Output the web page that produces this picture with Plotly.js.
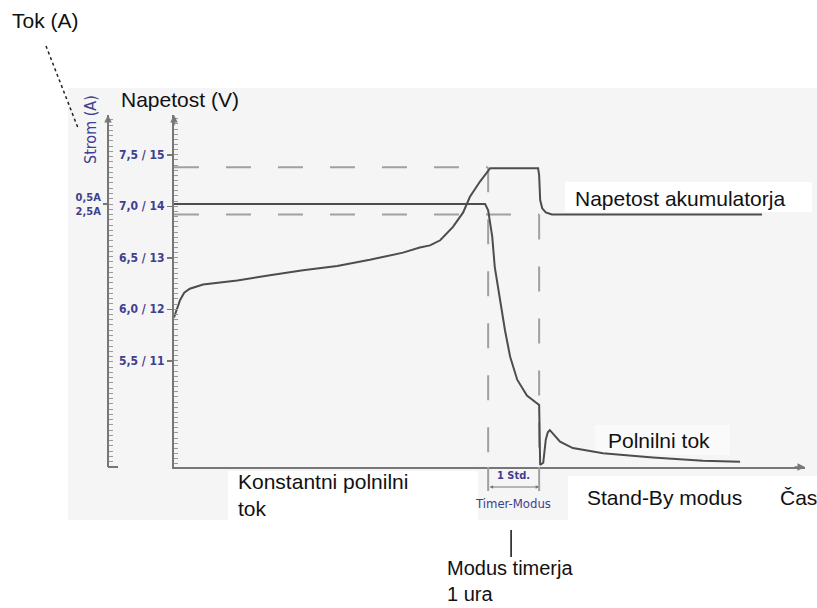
<!DOCTYPE html>
<html>
<head>
<meta charset="utf-8">
<script src="https://cdn.plot.ly/plotly-3.0.1.min.js"></script>
<style>html,body{margin:0;padding:0;background:#fff;}#chart{width:817px;height:608px;}</style>
</head>
<body>
<div id="chart"></div>
<script>
// ---- data (time in hours, voltage in V, current in A) ----
const tVoltage = [0, 0.06, 0.12, 0.20, 0.31, 0.57, 1.24, 1.88, 2.53, 3.20, 3.84, 4.49, 4.82, 5.02, 5.22, 5.47, 5.67, 5.80, 6.00, 6.20, 7.14, 7.16, 7.18, 7.22, 7.29, 7.41, 11.53];
const vVoltage = [5.92, 6.01, 6.09, 6.16, 6.20, 6.24, 6.28, 6.33, 6.38, 6.42, 6.48, 6.55, 6.60, 6.62, 6.67, 6.80, 6.94, 7.09, 7.24, 7.37, 7.37, 7.30, 7.06, 6.98, 6.94, 6.92, 6.92];

const tCurrent = [0, 6.10, 6.16, 6.24, 6.29, 6.39, 6.49, 6.59, 6.73, 6.92, 7.12, 7.16, 7.18, 7.24, 7.29, 7.33, 7.37, 7.57, 7.82, 8.41, 9.39, 10.37, 11.10];
const iCurrent = [2.50, 2.50, 2.44, 2.19, 1.90, 1.59, 1.30, 1.05, 0.83, 0.68, 0.61, 0.59, 0.02, 0.04, 0.26, 0.33, 0.35, 0.24, 0.18, 0.13, 0.09, 0.06, 0.05];

const vBoost = 7.38;      // upper dashed level
const vFloat = 6.92;      // lower dashed level
const tTimerStart = 6.16; // start of timer mode
const tTimerEnd = 7.16;   // end of timer mode (1 h)

const voltTickVals = [5.5, 6.0, 6.5, 7.0, 7.5];
const voltTickText = ['5,5 / 11', '6,0 / 12', '6,5 / 13', '7,0 / 14', '7,5 / 15'];
const currTickVals = [2.5];
const currTickText = ['0,5A<br>2,5A'];

const voltRange = [4.469, 7.886];
const currRange = [0, 3.346];
const timeRange = [0, 12.373];

// ---- styles ----
const curveColor = '#4d4d4d';
const axisColor = '#777777';
const dashColor = '#a0a0a0';
const blue = '#3f3f8f';
const narrow = '"Liberation Sans Narrow", "Arial Narrow", "DejaVu Sans Condensed", sans-serif';
const dashPat = '25px,27px';

const traces = [
  {x: [0, tTimerStart], y: [vBoost, vBoost], mode: 'lines', line: {color: dashColor, width: 2, dash: dashPat}, hoverinfo: 'skip'},
  {x: [0, tTimerEnd], y: [vFloat, vFloat], mode: 'lines', line: {color: dashColor, width: 2, dash: dashPat}, hoverinfo: 'skip'},
  {x: [tTimerStart, tTimerStart], y: [vBoost, voltRange[0]], mode: 'lines', line: {color: dashColor, width: 2, dash: dashPat}, hoverinfo: 'skip'},
  {x: [tTimerEnd, tTimerEnd], y: [vFloat, voltRange[0]], mode: 'lines', line: {color: dashColor, width: 2, dash: dashPat}, hoverinfo: 'skip'},
  {x: tVoltage, y: vVoltage, mode: 'lines', name: 'Napetost', line: {color: curveColor, width: 2}},
  {x: tCurrent, y: iCurrent, yaxis: 'y2', mode: 'lines', name: 'Tok', line: {color: curveColor, width: 2}}
];

const px = v => (v - 60) / 745;      // helper for paper x
const py = v => (467 - v) / 352;     // helper for paper y

const txt = (text, x, y, extra) => Object.assign({
  text: text, xref: 'paper', yref: 'paper', x: px(x), y: py(y),
  xanchor: 'left', yanchor: 'middle', showarrow: false, align: 'left',
  font: {size: 21, color: '#111', family: '"Liberation Sans", Arial, sans-serif'}
}, extra || {});

const annotations = [
  txt('Tok (A)', 10, 20),
  txt('Napetost (V)', 119, 100),
  txt('Napetost akumulatorja', 573, 198),
  txt('Polnilni tok', 606, 440),
  txt('Konstantni polnilni<br>tok', 236, 495),
  txt('Stand-By modus', 585, 497),
  txt('Čas', 778, 497),
  txt('Modus timerja<br>1 ura', 445, 581, {font: {size: 20, color: '#111', family: '"Liberation Sans", Arial, sans-serif'}}),
  txt('1 Std.', 513, 475, {xanchor: 'center', font: {size: 11, color: blue, family: narrow, weight: 'bold'}}),
  txt('Timer-Modus', 513, 503, {xanchor: 'center', font: {size: 13, color: blue, family: narrow}}),
  txt('Strom (A)', 90, 130, {xanchor: 'center', textangle: -90, font: {size: 16, color: blue, family: narrow}}),
  // axis arrows
  {xref: 'paper', yref: 'paper', x: px(174), y: 1, ax: 0, ay: 12, showarrow: true, arrowhead: 2, arrowsize: 1, arrowwidth: 1.5, arrowcolor: axisColor, text: ''},
  {xref: 'paper', yref: 'paper', x: px(108), y: 1, ax: 0, ay: 12, showarrow: true, arrowhead: 2, arrowsize: 1, arrowwidth: 1.5, arrowcolor: axisColor, text: ''},
  {xref: 'paper', yref: 'paper', x: 1, y: 0, ax: -12, ay: 0, showarrow: true, arrowhead: 2, arrowsize: 1, arrowwidth: 1.5, arrowcolor: axisColor, text: ''},
  // 1 Std. double arrow
  {xref: 'x', yref: 'paper', x: tTimerEnd, y: py(487), axref: 'x', ax: tTimerStart, ayref: 'pixel', ay: 0,
   showarrow: true, arrowside: 'end+start', arrowhead: 2, arrowsize: 0.7, arrowwidth: 1, arrowcolor: '#777', text: ''}
];

const shapes = [
  {type: 'rect', xref: 'paper', yref: 'paper', x0: px(68), x1: px(817), y0: py(520), y1: py(88), fillcolor: '#f5f5f5', line: {width: 0}, layer: 'below'},
  {type: 'rect', xref: 'paper', yref: 'paper', x0: px(228), x1: px(478), y0: py(524), y1: py(471), fillcolor: '#ffffff', line: {width: 0}, layer: 'below'},
  {type: 'rect', xref: 'paper', yref: 'paper', x0: px(568), x1: px(817), y0: py(520), y1: py(476), fillcolor: '#ffffff', line: {width: 0}, layer: 'below'},
  {type: 'rect', xref: 'paper', yref: 'paper', x0: px(565), x1: px(812), y0: py(212), y1: py(182), fillcolor: '#ffffff', line: {width: 0}, layer: 'below'},
  {type: 'rect', xref: 'paper', yref: 'paper', x0: px(595), x1: px(730), y0: py(455), y1: py(425), fillcolor: '#fafafa', line: {width: 0}, layer: 'below'},
  // dashed timer lines below the axis
  {type: 'line', xref: 'x', yref: 'paper', x0: tTimerStart, x1: tTimerStart, y0: 0, y1: py(491), line: {color: dashColor, width: 2}},
  {type: 'line', xref: 'x', yref: 'paper', x0: tTimerEnd, x1: tTimerEnd, y0: 0, y1: py(491), line: {color: dashColor, width: 2}},
  // pointer to "Modus timerja"
  {type: 'line', xref: 'x', yref: 'paper', x0: (tTimerStart + tTimerEnd) / 2 - 0.05, x1: (tTimerStart + tTimerEnd) / 2 - 0.05, y0: py(530), y1: py(557), line: {color: '#111', width: 1.5}},
  // "Tok (A)" leader
  {type: 'line', xref: 'paper', yref: 'paper', x0: px(46), y0: py(46), x1: px(78), y1: py(128), line: {color: '#222', width: 1.5, dash: 'dot'}},
  // foot of current axis
  {type: 'line', xref: 'paper', yref: 'paper', x0: px(108), x1: px(118), y0: 0, y1: 0, line: {color: axisColor, width: 2}}
];

const layout = {
  width: 817, height: 608,
  margin: {l: 60, r: 12, t: 115, b: 141, pad: 0},
  paper_bgcolor: '#ffffff',
  plot_bgcolor: 'rgba(0,0,0,0)',
  showlegend: false,
  font: {family: '"Liberation Sans", Arial, sans-serif', color: '#111'},
  xaxis: {
    domain: [px(174), 1], range: timeRange, showgrid: false, zeroline: false,
    showline: true, linecolor: axisColor, linewidth: 2, showticklabels: false, ticks: ''
  },
  yaxis: {
    range: voltRange, showgrid: false, zeroline: false,
    showline: true, linecolor: axisColor, linewidth: 2,
    tickmode: 'array', tickvals: voltTickVals, ticktext: voltTickText,
    ticks: 'outside', ticklen: 5, tickwidth: 1.5, tickcolor: axisColor,
    tickfont: {size: 12, color: blue, family: narrow, weight: 'bold'},
    minor: {dtick: 0.05, tick0: 0, ticks: 'inside', ticklen: 4, tickwidth: 1, tickcolor: '#999', showgrid: false}
  },
  yaxis2: {
    range: currRange, overlaying: 'y', anchor: 'free', position: px(108), side: 'left',
    showgrid: false, zeroline: false, showline: true, linecolor: axisColor, linewidth: 2,
    tickmode: 'array', tickvals: currTickVals, ticktext: currTickText,
    ticks: 'outside', ticklen: 4, tickwidth: 1.5, tickcolor: axisColor,
    tickfont: {size: 11, color: blue, family: narrow, weight: 'bold'},
    minor: {dtick: 0.05, tick0: 0, ticks: 'inside', ticklen: 4, tickwidth: 1, tickcolor: '#999', showgrid: false}
  },
  annotations: annotations,
  shapes: shapes
};

Plotly.newPlot('chart', traces, layout, {displayModeBar: false, staticPlot: true});
</script>
</body>
</html>
